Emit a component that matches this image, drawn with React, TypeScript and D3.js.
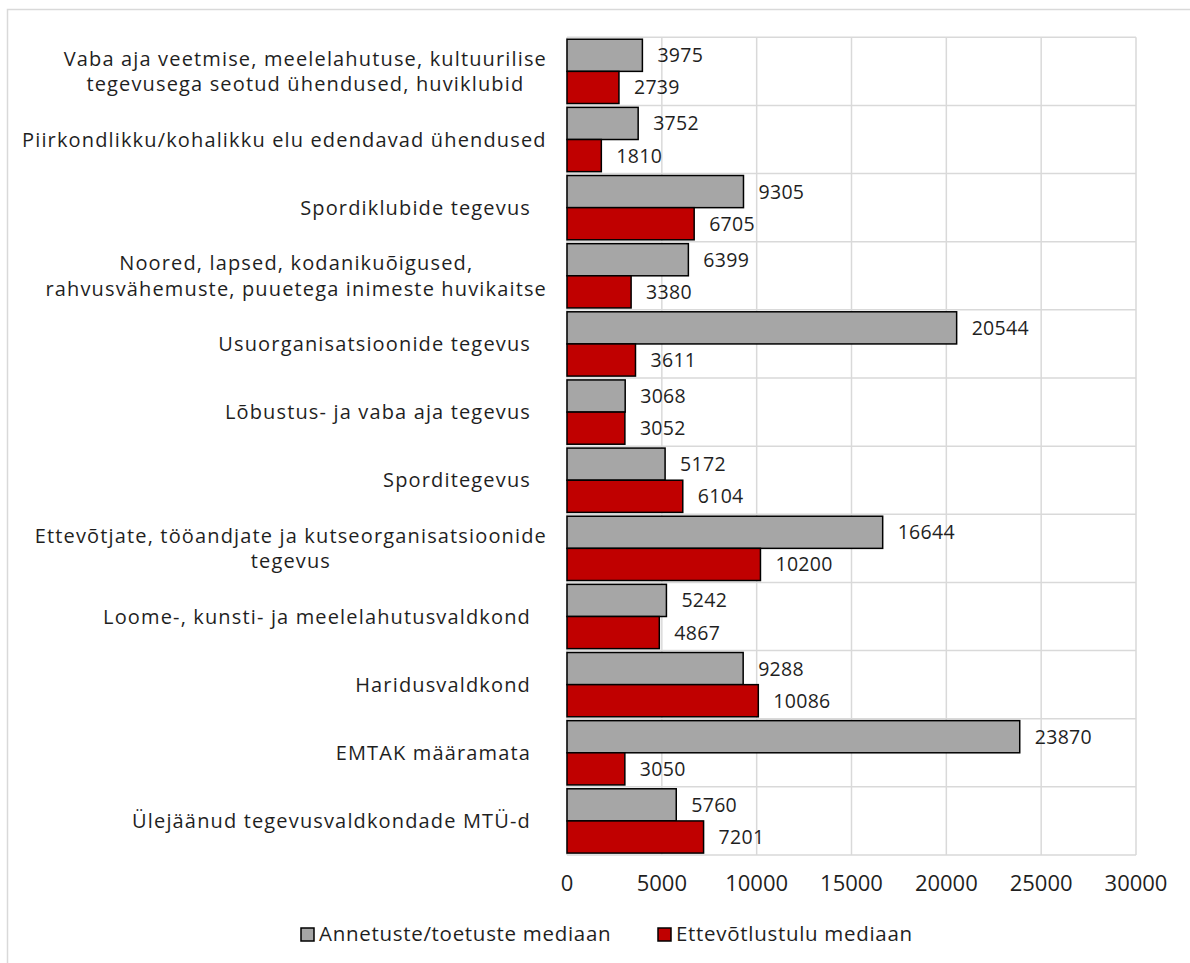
import React, { useEffect, useRef } from "react";
import * as d3 from "d3";

const categories: string[][] = [
  ["Vaba aja veetmise, meelelahutuse, kultuurilise", "tegevusega seotud ühendused, huviklubid"],
  ["Piirkondlikku/kohalikku elu edendavad ühendused"],
  ["Spordiklubide tegevus"],
  ["Noored, lapsed, kodanikuõigused,", "rahvusvähemuste, puuetega inimeste huvikaitse"],
  ["Usuorganisatsioonide tegevus"],
  ["Lõbustus- ja vaba aja tegevus"],
  ["Sporditegevus"],
  ["Ettevõtjate, tööandjate ja kutseorganisatsioonide", "tegevus"],
  ["Loome-, kunsti- ja meelelahutusvaldkond"],
  ["Haridusvaldkond"],
  ["EMTAK määramata"],
  ["Ülejäänud tegevusvaldkondade MTÜ-d"],
];

const annetused: number[] = [3975, 3752, 9305, 6399, 20544, 3068, 5172, 16644, 5242, 9288, 23870, 5760];
const ettevotlus: number[] = [2739, 1810, 6705, 3380, 3611, 3052, 6104, 10200, 4867, 10086, 3050, 7201];

const seriesNames: string[] = ["Annetuste/toetuste mediaan", "Ettevõtlustulu mediaan"];
const seriesColors: string[] = ["#a6a6a6", "#c00000"];
const xTicks: number[] = [0, 5000, 10000, 15000, 20000, 25000, 30000];

const W = 1190;
const H = 963;
const LABEL_FONT = "'Open Sans', 'Noto Sans', sans-serif";
const TICK_FONT = "'Open Sans', 'Noto Sans', sans-serif";

export default function App() {
  const ref = useRef<SVGSVGElement | null>(null);

  useEffect(() => {
    const svg = d3.select(ref.current);
    svg.selectAll("*").remove();

    const left = 567, right = 1136, top = 37.3, bottom = 855;
    const x = d3.scaleLinear().domain([0, 30000]).range([left, right]);
    const y = d3.scaleBand<number>().domain(d3.range(categories.length)).range([top, bottom]).paddingInner(0).paddingOuter(0);
    const bw = y.bandwidth();
    const inner = d3.scaleBand<number>().domain([0, 1]).range([0, bw]).paddingOuter(0.06).paddingInner(0);

    svg.append("rect").attr("x", 7.5).attr("y", 9.5).attr("width", 1200).attr("height", 1000)
      .attr("fill", "white").attr("stroke", "#d9d9d9").attr("stroke-width", 1.5);

    const g = svg.append("g");
    xTicks.forEach((t) => {
      g.append("line").attr("x1", x(t)).attr("x2", x(t)).attr("y1", top).attr("y2", bottom)
        .attr("stroke", "#d9d9d9").attr("stroke-width", 1.5);
    });
    d3.range(categories.length + 1).forEach((i) => {
      const yy = i < categories.length ? (y(i) as number) : bottom;
      g.append("line").attr("x1", left).attr("x2", right).attr("y1", yy).attr("y2", yy)
        .attr("stroke", "#d9d9d9").attr("stroke-width", 1.5);
    });

    const series = [annetused, ettevotlus];
    series.forEach((vals, s) => {
      vals.forEach((v, i) => {
        const y0 = (y(i) as number) + (inner(s) as number);
        const h = inner.bandwidth();
        svg.append("rect").attr("x", x(0)).attr("y", y0).attr("width", x(v) - x(0)).attr("height", h)
          .attr("fill", seriesColors[s]).attr("stroke", "#000").attr("stroke-width", 1.5);
        svg.append("text").attr("x", x(v) + 15).attr("y", y0 + h / 2).attr("dy", "0.36em")
          .attr("font-family", LABEL_FONT).attr("font-size", 19.5).attr("letter-spacing", 0.3)
          .attr("fill", "#1f1f1f").text(String(v));
      });
    });

    const lineH = 25.5;
    categories.forEach((lines, i) => {
      const cy = (y(i) as number) + bw / 2;
      const tg = svg.append("g");
      const texts = lines.map((ln, k) =>
        tg.append("text").attr("y", cy + (k - (lines.length - 1) / 2) * lineH).attr("dy", "0.36em")
          .attr("font-family", LABEL_FONT).attr("font-size", 20).attr("letter-spacing", 1.15)
          .attr("fill", "#1f1f1f").text(ln)
      );
      const widths = texts.map((t) => (t.node() as SVGTextElement).getComputedTextLength());
      if (lines.length > 1) {
        const maxW = d3.max(widths) as number;
        const c = 547 - maxW / 2;
        texts.forEach((t) => t.attr("x", c).attr("text-anchor", "middle"));
      } else {
        const e = Math.max(531, 22 + widths[0]);
        texts[0].attr("x", e).attr("text-anchor", "end");
      }
    });

    xTicks.forEach((t) => {
      svg.append("text").attr("x", x(t)).attr("y", 883).attr("dy", "0.36em").attr("text-anchor", "middle")
        .attr("font-family", TICK_FONT).attr("font-size", 22).attr("fill", "#1f1f1f").text(String(t));
    });

    const legX = [301, 658];
    seriesNames.forEach((n, s) => {
      svg.append("rect").attr("x", legX[s]).attr("y", 928).attr("width", 13).attr("height", 13)
        .attr("fill", seriesColors[s]).attr("stroke", "#000").attr("stroke-width", 1.5);
      svg.append("text").attr("x", legX[s] + 18).attr("y", 941)
        .attr("font-family", LABEL_FONT).attr("font-size", 20.5).attr("letter-spacing", 0.7)
        .attr("fill", "#1f1f1f").text(n);
    });
  }, []);

  return (
    <div style={{ position: "absolute", left: 0, top: 0 }}>
      <svg ref={ref} width={W} height={H} style={{ display: "block", background: "white" }} />
    </div>
  );
}
